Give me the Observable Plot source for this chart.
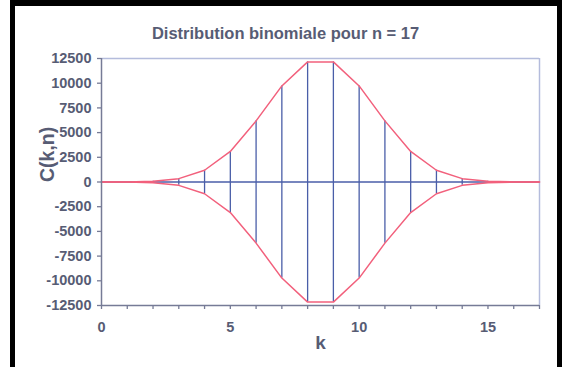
<!DOCTYPE html>
<html>
<head>
<meta charset="utf-8">
<script src="https://cdn.jsdelivr.net/npm/d3@7"></script>
<script src="https://cdn.jsdelivr.net/npm/@observablehq/plot@0.6"></script>
<style>
  html, body { margin: 0; padding: 0; background: #fff; }
  #wrap { position: relative; width: 562px; height: 367px; overflow: hidden; }
  .bar { position: absolute; background: #000; }
</style>
</head>
<body>
<div id="wrap"></div>
<script>
const titleText = "Distribution binomiale pour n = 17";
const xLabel = "k";
const yLabel = "C(k,n)";
const ks = [0, 1, 2, 3, 4, 5, 6, 7, 8, 9, 10, 11, 12, 13, 14, 15, 16, 17];
const values = [0.5, 8.5, 68, 340, 1190, 3094, 6188, 9724, 12155, 12155, 9724, 6188, 3094, 1190, 340, 68, 8.5, 0.5];
const xTicks = [0, 1, 2, 3, 4, 5, 6, 7, 8, 9, 10, 11, 12, 13, 14, 15, 16, 17];
const xTickLabels = [0, 5, 10, 15];
const yTicks = [-12500, -10000, -7500, -5000, -2500, 0, 2500, 5000, 7500, 10000, 12500];

const data = ks.map((k, i) => ({k, v: values[i]}));

const blue = "#4a5ea8";
const pink = "#f2607c";
const axisCol = "#767b96";
const frameCol = "#b4bcdc";
const textCol = "#575c74";

const chart = Plot.plot({
  width: 562,
  height: 367,
  marginLeft: 101,
  marginRight: 23,
  marginTop: 58,
  marginBottom: 62,
  style: {fontFamily: "Liberation Sans, Arial, sans-serif", background: "transparent", color: textCol},
  x: {type: "linear", domain: [0, 17]},
  y: {type: "linear", domain: [-12500, 12500]},
  marks: [
    Plot.ruleY([12500], {x1: 0, x2: 17, stroke: frameCol, strokeWidth: 1.5}),
    Plot.ruleX([17], {y1: -12500, y2: 12500, stroke: frameCol, strokeWidth: 1.5}),
    Plot.ruleY([0], {x1: 0, x2: 17, stroke: blue, strokeWidth: 1.5}),
    Plot.ruleX(data, {x: "k", y1: d => -d.v, y2: d => d.v, stroke: blue, strokeWidth: 1.3}),
    Plot.line(data, {x: "k", y: "v", stroke: pink, strokeWidth: 1.5}),
    Plot.line(data, {x: "k", y: d => -d.v, stroke: pink, strokeWidth: 1.5}),
    Plot.ruleX([0], {y1: -12500, y2: 12500, stroke: axisCol, strokeWidth: 1.5}),
    Plot.ruleY([-12500], {x1: 0, x2: 17, stroke: axisCol, strokeWidth: 1.5}),
    Plot.axisX({ticks: xTicks, tickSize: 4, tickFormat: d => xTickLabels.includes(d) ? String(d) : "", stroke: axisCol, strokeWidth: 1.3, tickPadding: 12, fontSize: 14.5, fontWeight: "bold", fill: textCol, label: null}),
    Plot.axisY({ticks: yTicks, tickSize: 4, tickFormat: d => String(d), stroke: axisCol, strokeWidth: 1.3, tickPadding: 6, fontSize: 14.5, fontWeight: "bold", fill: textCol, label: null}),
    Plot.text([titleText], {frameAnchor: "top", dx: -35, dy: -31, fontSize: 16.5, fontWeight: "bold", fill: textCol}),
    Plot.text([xLabel], {frameAnchor: "bottom", dy: 43, fontSize: 19, fontWeight: "bold", fill: textCol}),
    Plot.text([yLabel], {frameAnchor: "left", dx: -54, rotate: -90, fontSize: 19.5, fontWeight: "bold", fill: textCol})
  ]
});
const wrap = document.getElementById("wrap");
wrap.appendChild(chart);
chart.style.position = "absolute";
chart.style.left = "0px";
chart.style.top = "0px";
[["10px","0px","552px","6px"],["10px","0px","5px","367px"],["557px","0px","5px","367px"]].forEach(([l,t,w,h]) => {
  const b = document.createElement("div");
  b.className = "bar";
  b.style.left = l; b.style.top = t; b.style.width = w; b.style.height = h;
  wrap.appendChild(b);
});
</script>
</body>
</html>
